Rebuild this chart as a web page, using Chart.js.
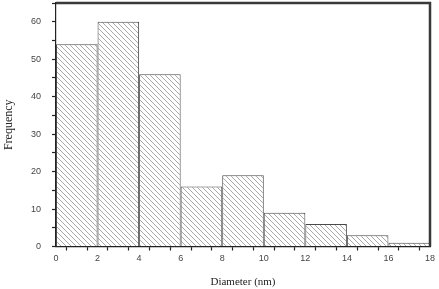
<!DOCTYPE html>
<html lang="en">
<head>
    <meta charset="UTF-8">
    <script src="https://cdn.jsdelivr.net/npm/chart.js"></script>
    <title>Diameter histogram</title>
    <style>
        html, body { margin: 0; padding: 0; background: #fff; }
        #wrap { width: 439px; height: 289px; }
    </style>
</head>
<body>
    <div id="wrap"><canvas id="chart"></canvas></div>

    <script>
        // Histogram data: bin centres (nm) and counts
        const binCenters = [1, 3, 5, 7, 9, 11, 13, 15, 17];
        const frequency = [54, 60, 46, 16, 19, 9, 6, 3, 1];
        const xLabels = [0, 2, 4, 6, 8, 10, 12, 14, 16, 18];
        const yLabels = [0, 10, 20, 30, 40, 50, 60];

        // diagonal hatch fill
        function makeHatch() {
            const n = 5;
            const c = document.createElement('canvas');
            c.width = n; c.height = n;
            const g = c.getContext('2d');
            g.fillStyle = '#fff';
            g.fillRect(0, 0, n, n);
            g.strokeStyle = '#a8a8a8';
            g.lineWidth = 1;
            g.beginPath();
            g.moveTo(-1, -1); g.lineTo(n + 1, n + 1);
            g.moveTo(-1, n - 1); g.lineTo(1, n + 1);
            g.moveTo(n - 1, -1); g.lineTo(n + 1, 1);
            g.stroke();
            return g.createPattern(c, 'repeat');
        }

        // thick top and right frame lines
        const framePlugin = {
            id: 'frame',
            afterDraw(chart) {
                const a = chart.chartArea;
                const ctx = chart.ctx;
                ctx.save();
                ctx.strokeStyle = '#3a3a3a';
                ctx.lineWidth = 2.5;
                ctx.beginPath();
                ctx.moveTo(a.left, a.top);
                ctx.lineTo(a.right, a.top);
                ctx.lineTo(a.right, a.bottom);
                ctx.stroke();
                ctx.restore();
            }
        };

        const ctx = document.getElementById('chart').getContext('2d');
        const chart = new Chart(ctx, {
            type: 'bar',
            data: {
                datasets: [{
                    data: binCenters.map((x, i) => ({ x: x, y: frequency[i] })),
                    backgroundColor: makeHatch(),
                    borderColor: '#4a4a4a',
                    borderWidth: 1,
                    // ticks every 1 nm make the sample size 1, bins are 2 wide
                    barPercentage: 2,
                    categoryPercentage: 1,
                }],
            },
            options: {
                responsive: true,
                maintainAspectRatio: false,
                animation: false,
                layout: { padding: { top: 3, right: 9, left: 0, bottom: 0 } },
                plugins: { legend: { display: false }, tooltip: { enabled: false } },
                scales: {
                    x: {
                        type: 'linear',
                        min: 0,
                        max: 18,
                        offset: false,
                        ticks: {
                            stepSize: 1,
                            autoSkip: false,
                            maxRotation: 0,
                            padding: 3,
                            color: '#444',
                            font: { family: 'Liberation Sans', size: 9 },
                            callback: (v) => xLabels.includes(v) ? v : '',
                        },
                        grid: { drawOnChartArea: false, tickLength: 4, color: '#222', tickWidth: 1.2 },
                        border: { color: '#222', width: 1.2 },
                        title: {
                            display: true,
                            text: 'Diameter (nm)',
                            color: '#222',
                            font: { family: 'Liberation Serif', size: 11 },
                            padding: { top: 10, bottom: 0 },
                        },
                        afterFit: (s) => { s.height = 42.5; s.paddingRight = 0; s.paddingLeft = 0; },
                    },
                    y: {
                        min: 0,
                        max: 65,
                        ticks: {
                            stepSize: 5,
                            autoSkip: false,
                            padding: 11,
                            color: '#444',
                            font: { family: 'Liberation Sans', size: 9 },
                            callback: (v) => yLabels.includes(v) ? v : '',
                        },
                        grid: { drawOnChartArea: false, tickLength: 4, color: '#222', tickWidth: 1.2 },
                        border: { color: '#222', width: 1.2 },
                        title: {
                            display: true,
                            text: 'Frequency',
                            color: '#222',
                            font: { family: 'Liberation Serif', size: 12 },
                            padding: { top: 2, bottom: 0 },
                        },
                        afterFit: (s) => { s.width = 56; s.paddingTop = 0; s.paddingBottom = 0; },
                    },
                },
            },
            plugins: [framePlugin],
        });
    </script>
</body>
</html>
